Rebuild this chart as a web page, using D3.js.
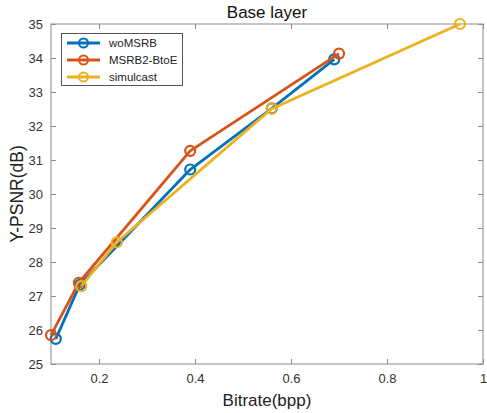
<!DOCTYPE html>
<html>
<head>
<meta charset="utf-8">
<script src="https://cdn.jsdelivr.net/npm/d3@7"></script>
<style>
body { margin: 0; background: #fff; }
text { font-family: "Liberation Sans", Arial, sans-serif; }
</style>
</head>
<body>
<div id="chart"></div>
<script>
var width = 487,
	height = 413;

// data
var seriesNames = ["woMSRB", "MSRB2-BtoE", "simulcast"];
var seriesColors = ["#0072BD", "#D95319", "#EDB120"];

var woMSRB_x = [0.11, 0.16, 0.39, 0.56, 0.69];
var woMSRB_y = [25.74, 27.33, 30.72, 32.52, 33.96];

var msrb_x = [0.10, 0.158, 0.39, 0.70];
var msrb_y = [25.85, 27.39, 31.27, 34.13];

var simul_x = [0.163, 0.237, 0.56, 0.952];
var simul_y = [27.29, 28.58, 32.51, 35.0];

var xTicks = [0.2, 0.4, 0.6, 0.8, 1];
var yTicks = [25, 26, 27, 28, 29, 30, 31, 32, 33, 34, 35];

var series = [
	{ name: seriesNames[0], color: seriesColors[0], xs: woMSRB_x, ys: woMSRB_y },
	{ name: seriesNames[1], color: seriesColors[1], xs: msrb_x, ys: msrb_y },
	{ name: seriesNames[2], color: seriesColors[2], xs: simul_x, ys: simul_y }
];

// plot box (window.top is reserved, so use own names)
var plotL = 51, plotR = 483, plotT = 24, plotB = 364;

var svg = d3.select("#chart")
	.append("svg")
	.attr("width", width)
	.attr("height", height);

var x = d3.scaleLinear().domain([0.1, 1]).range([plotL, plotR]);
var y = d3.scaleLinear().domain([25, 35]).range([plotB, plotT]);

var axisColor = "#8c8c8c";

// box
svg.append("rect")
	.attr("x", plotL).attr("y", plotT)
	.attr("width", plotR - plotL).attr("height", plotB - plotT)
	.attr("fill", "none").attr("stroke", axisColor).attr("stroke-width", 1);

// bottom axis
var gx = svg.append("g")
	.attr("transform", "translate(0," + plotB + ")")
	.call(d3.axisBottom(x).tickValues(xTicks).tickSizeInner(-5).tickSizeOuter(0).tickPadding(10)
		.tickFormat(function(d){ return d3.format("~g")(d); }));
gx.select(".domain").remove();
gx.selectAll("line").attr("stroke", axisColor);
gx.selectAll("text").attr("fill", "#333").attr("font-size", "13px");

// top ticks
var gxt = svg.append("g")
	.attr("transform", "translate(0," + plotT + ")")
	.call(d3.axisTop(x).tickValues(xTicks).tickSizeInner(-5).tickSizeOuter(0).tickFormat(""));
gxt.select(".domain").remove();
gxt.selectAll("line").attr("stroke", axisColor);

// left axis
var gy = svg.append("g")
	.attr("transform", "translate(" + plotL + ",0)")
	.call(d3.axisLeft(y).tickValues(yTicks).tickSizeInner(-5).tickSizeOuter(0).tickPadding(8));
gy.select(".domain").remove();
gy.selectAll("line").attr("stroke", axisColor);
gy.selectAll("text").attr("fill", "#333").attr("font-size", "13px");

// right ticks
var gyr = svg.append("g")
	.attr("transform", "translate(" + plotR + ",0)")
	.call(d3.axisRight(y).tickValues(yTicks).tickSizeInner(-5).tickSizeOuter(0).tickFormat(""));
gyr.select(".domain").remove();
gyr.selectAll("line").attr("stroke", axisColor);

// lines
var line = d3.line()
	.x(function(d){ return x(d[0]); })
	.y(function(d){ return y(d[1]); });

var gs = svg.append("g");
series.forEach(function(s){
	var pts = d3.zip(s.xs, s.ys);
	gs.append("path")
		.datum(pts)
		.attr("d", line)
		.attr("fill", "none")
		.attr("stroke", s.color)
		.attr("stroke-width", 2.8)
		.attr("stroke-linejoin", "round");
	gs.selectAll(null)
		.data(pts)
		.enter()
		.append("circle")
		.attr("cx", function(d){ return x(d[0]); })
		.attr("cy", function(d){ return y(d[1]); })
		.attr("r", 5)
		.attr("fill", "none")
		.attr("stroke", s.color)
		.attr("stroke-width", 2.2);
});

// legend
var lg = svg.append("g");
lg.append("rect")
	.attr("x", 61.5).attr("y", 33.5).attr("width", 121).attr("height", 52)
	.attr("fill", "#fff").attr("stroke", "#555").attr("stroke-width", 1);
series.forEach(function(s, i){
	var ly = 43 + i * 17;
	lg.append("line")
		.attr("x1", 67).attr("x2", 100).attr("y1", ly).attr("y2", ly)
		.attr("stroke", s.color).attr("stroke-width", 2.8);
	lg.append("circle")
		.attr("cx", 83.5).attr("cy", ly).attr("r", 4.5)
		.attr("fill", "none").attr("stroke", s.color).attr("stroke-width", 2);
	lg.append("text")
		.attr("x", 109).attr("y", ly + 4)
		.attr("font-size", "11.5px").attr("fill", "#222")
		.text(s.name);
});

// title and labels
svg.append("text")
	.attr("x", (plotL + plotR) / 2).attr("y", 18)
	.attr("text-anchor", "middle").attr("font-size", "17px").attr("fill", "#111")
	.text("Base layer");

svg.append("text")
	.attr("x", (plotL + plotR) / 2).attr("y", 406)
	.attr("text-anchor", "middle").attr("font-size", "17px").attr("fill", "#222")
	.text("Bitrate(bpp)");

svg.append("text")
	.attr("transform", "translate(23," + ((plotT + plotB) / 2) + ") rotate(-90)")
	.attr("text-anchor", "middle").attr("font-size", "17.5px").attr("fill", "#222")
	.text("Y-PSNR(dB)");
</script>
</body>
</html>
